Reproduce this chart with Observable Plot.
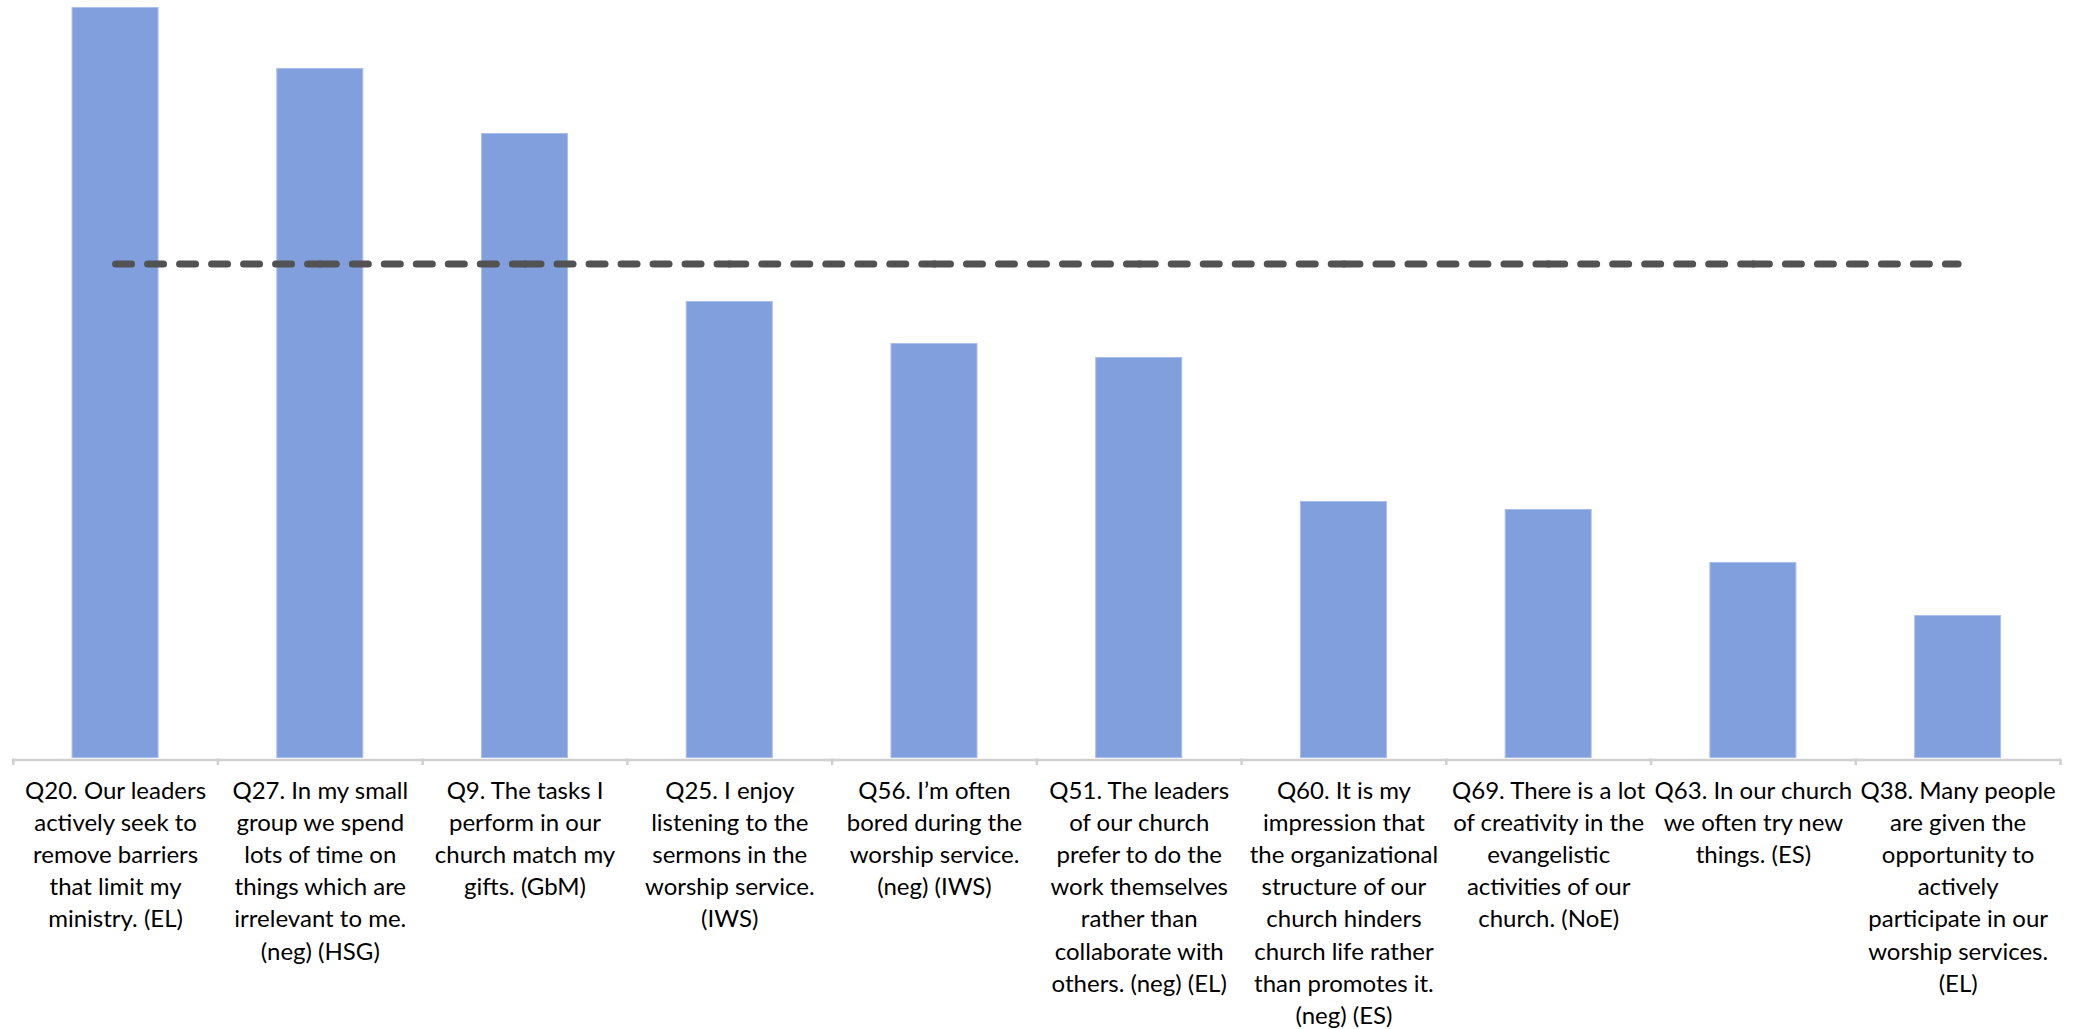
<!DOCTYPE html>
<html>
<head>
<meta charset="utf-8">
<script src="https://cdn.jsdelivr.net/npm/d3@7"></script>
<script src="https://cdn.jsdelivr.net/npm/@observablehq/plot@0.6"></script>
<style>
  html, body { margin: 0; padding: 0; background: #ffffff; }
  #chart svg { display: block; }
</style>
</head>
<body>
<div id="chart"></div>
<script>
// Question labels (wrapped as in the original)
const categories = [
  "Q20. Our leaders\nactively seek to\nremove barriers\nthat limit my\nministry. (EL)",
  "Q27. In my small\ngroup we spend\nlots of time on\nthings which are\nirrelevant to me.\n(neg) (HSG)",
  "Q9. The tasks I\nperform in our\nchurch match my\ngifts. (GbM)",
  "Q25. I enjoy\nlistening to the\nsermons in the\nworship service.\n(IWS)",
  "Q56. I’m often\nbored during the\nworship service.\n(neg) (IWS)",
  "Q51. The leaders\nof our church\nprefer to do the\nwork themselves\nrather than\ncollaborate with\nothers. (neg) (EL)",
  "Q60. It is my\nimpression that\nthe organizational\nstructure of our\nchurch hinders\nchurch life rather\nthan promotes it.\n(neg) (ES)",
  "Q69. There is a lot\nof creativity in the\nevangelistic\nactivities of our\nchurch. (NoE)",
  "Q63. In our church\nwe often try new\nthings. (ES)",
  "Q38. Many people\nare given the\nopportunity to\nactively\nparticipate in our\nworship services.\n(EL)"
];
// Bar values (estimated, arbitrary units – no value axis in the original)
const values = [75.1, 69.0, 62.5, 45.7, 41.5, 40.1, 25.7, 24.9, 19.6, 14.3];
// Reference (average) level drawn as the dashed line
const average = 49.5;

const bars = categories.map((c, i) => ({q: c, v: values[i]}));
const segments = categories.slice(1).map((c, i) => ({a: categories[i], b: c}));

const W = 2076, H = 1029;
const mL = 12.7, mR = 16;
const step = (W - mL - mR) / categories.length;

const chart = Plot.plot({
  width: W,
  height: H,
  marginLeft: mL,
  marginRight: mR,
  marginTop: 0,
  marginBottom: 270.5,
  style: {fontFamily: "Lato, 'Open Sans', sans-serif", background: "#ffffff", color: "#000"},
  x: {type: "band", domain: categories, paddingInner: 0.58, paddingOuter: 0.29, round: false, label: null},
  y: {domain: [0, 75.85], axis: null},
  marks: [
    Plot.barY(bars, {x: "q", y: "v", fill: "#819fdd", stroke: "#a9bfeb", strokeWidth: 1, insetBottom: 1}),
    Plot.ruleY([0], {stroke: "#d0d0d0", strokeWidth: 2.5, dy: 1}),
    Plot.ruleX(categories, {x: d => d, y1: 0, y2: -0.65, dx: -step / 2, stroke: "#d0d0d0", strokeWidth: 2.5}),
    Plot.ruleX([categories[categories.length - 1]], {x: d => d, y1: 0, y2: -0.65, dx: step / 2, stroke: "#d0d0d0", strokeWidth: 2.5}),
    Plot.link(segments, {
      x1: "a", x2: "b", y1: () => average, y2: () => average,
      stroke: "#525252", strokeWidth: 7, strokeDasharray: "16,16", strokeLinecap: "round"
    }),
    Plot.axisX({
      tickSize: 0, tickPadding: 17, fontSize: 24, lineHeight: 1.34,
      fill: "#000", label: null, textOverflow: null
    })
  ]
});
document.getElementById("chart").appendChild(chart);
</script>
</body>
</html>
